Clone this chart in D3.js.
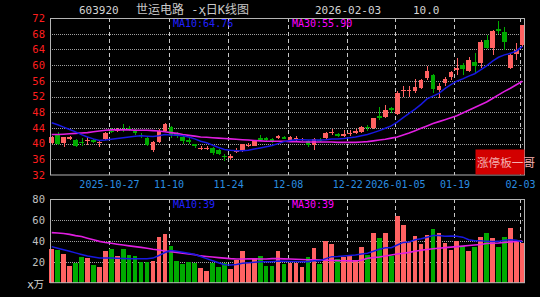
<!DOCTYPE html>
<html><head><meta charset="utf-8">
<script src="https://cdn.jsdelivr.net/npm/d3@7"></script>
<style>html,body{margin:0;padding:0;background:#000;overflow:hidden}</style>
</head><body><svg id="c" width="540" height="297"></svg>
<script>
const dates = [
"2025-10-13","2025-10-14","2025-10-15","2025-10-16","2025-10-17","2025-10-20","2025-10-21","2025-10-22","2025-10-23","2025-10-24",
"2025-10-27","2025-10-28","2025-10-29","2025-10-30","2025-10-31","2025-11-03","2025-11-04","2025-11-05","2025-11-06","2025-11-07",
"2025-11-10","2025-11-11","2025-11-12","2025-11-13","2025-11-14","2025-11-17","2025-11-18","2025-11-19","2025-11-20","2025-11-21",
"2025-11-24","2025-11-25","2025-11-26","2025-11-27","2025-11-28","2025-12-01","2025-12-02","2025-12-03","2025-12-04","2025-12-05",
"2025-12-08","2025-12-09","2025-12-10","2025-12-11","2025-12-12","2025-12-15","2025-12-16","2025-12-17","2025-12-18","2025-12-19",
"2025-12-22","2025-12-23","2025-12-24","2025-12-25","2025-12-26","2025-12-29","2025-12-30","2025-12-31","2026-01-05","2026-01-06",
"2026-01-07","2026-01-08","2026-01-09","2026-01-12","2026-01-13","2026-01-14","2026-01-15","2026-01-16","2026-01-19","2026-01-20",
"2026-01-21","2026-01-22","2026-01-23","2026-01-26","2026-01-27","2026-01-28","2026-01-29","2026-01-30","2026-02-02","2026-02-03"];

const open = [40.2,42.2,40.1,41.2,40.8,40.5,40.7,40.8,40.3,41.1,
43.3,43.1,43.8,43.9,43.4,42.3,41.3,38.4,40.5,43.3,
44.2,42.5,41.8,40.9,39.9,38.6,38.7,38.8,38.3,36.8,
36.4,37.8,38.3,39.5,39.5,41.3,41.5,41.2,41.3,41.6,
41.0,41.2,41.0,40.6,39.6,40.9,41.3,42.6,42.4,42.0,
42.5,42.6,42.9,44.3,43.9,47.0,46.9,49.0,47.5,53.3,
53.3,53.3,54.1,56.6,57.5,53.7,55.4,57.0,58.7,60.1,
58.4,60.9,60.5,66.4,64.3,69.2,68.5,59.2,62.8,65.0];
const high = [42.0,43.0,41.8,41.9,41.2,41.3,41.7,41.2,40.8,43.0,
44.0,44.1,44.9,44.4,43.8,42.8,41.6,40.6,43.6,45.3,
44.5,43.0,42.2,41.3,40.0,39.3,39.5,39.2,38.5,37.3,
37.3,38.8,40.0,40.2,41.0,42.3,41.7,41.4,42.1,41.9,
42.0,42.0,41.5,40.8,41.4,41.3,43.0,43.6,42.6,43.5,
43.5,43.7,44.4,44.7,46.6,49.4,49.9,49.4,53.4,54.7,
54.6,56.5,56.4,59.7,57.8,55.4,57.0,58.5,61.7,60.5,
62.0,63.0,66.4,67.7,68.9,71.2,69.8,62.8,65.6,70.2];
const low = [40.0,39.6,39.2,40.9,39.2,39.5,39.6,40.2,39.2,40.9,
42.8,42.9,42.9,43.2,42.2,41.3,39.4,37.9,40.2,43.0,
41.5,41.5,40.0,40.0,39.0,38.3,38.4,37.1,37.1,35.6,
35.8,37.6,37.9,39.1,39.3,40.8,40.7,40.1,41.1,41.2,
40.8,40.5,40.6,39.1,38.4,40.3,41.1,42.3,41.7,41.8,
41.9,42.4,42.7,43.2,43.6,46.0,46.5,47.7,47.2,52.0,
52.0,53.0,53.8,56.3,52.8,51.5,54.8,56.3,57.4,57.6,
58.2,58.0,59.3,64.0,62.6,68.0,63.8,59.0,61.2,64.5];
const close = [41.7,40.0,41.6,41.6,39.5,40.2,41.0,40.5,40.5,42.8,
43.1,43.6,43.6,43.5,42.8,42.0,39.6,40.4,43.3,44.9,
42.3,41.9,40.6,40.5,39.3,38.9,39.0,37.6,37.4,36.6,
36.8,38.4,39.8,39.7,40.8,41.1,40.9,40.5,41.9,41.4,
41.6,41.5,41.2,39.6,41.2,40.6,42.6,42.9,41.9,42.4,
42.8,43.2,44.3,43.9,46.4,46.6,48.6,48.6,52.9,53.7,
53.6,54.3,56.2,58.5,53.8,54.6,56.5,58.2,59.3,59.0,
61.3,59.8,66.0,64.4,68.6,68.8,66.0,62.6,63.8,70.2];
const volume = [32.3,31.3,27.2,16.3,18.6,24.9,23.4,17.0,15.3,30.4,
32.3,25.6,32.0,26.5,25.6,20.1,20.1,20.8,44.1,46.3,
35.2,20.8,17.9,20.1,18.6,13.8,11.2,18.6,15.3,18.6,
13.1,21.7,30.7,20.1,24.0,25.9,16.0,16.0,30.4,17.9,
19.2,19.0,15.0,24.3,33.0,17.9,40.3,36.8,22.7,24.9,
25.6,21.7,34.5,26.5,47.9,42.5,47.9,25.6,63.9,55.3,
39.3,45.0,36.8,45.7,51.1,47.3,37.7,31.3,40.3,35.2,
30.4,34.5,44.1,47.3,42.5,34.5,43.5,52.1,39.3,37.7];
const ma10 = [45.3,44.8,44.2,43.6,43.0,42.3,41.7,41.2,40.8,40.9,
41.1,41.3,41.5,41.7,41.9,42.0,41.9,41.8,42.0,42.3,
42.2,42.1,42.0,41.7,41.2,40.6,40.2,39.6,39.0,38.5,
38.3,38.2,38.2,38.3,38.6,38.9,39.2,39.5,40.0,40.5,
40.8,41.0,41.0,40.9,40.9,40.9,41.0,41.2,41.2,41.3,
41.5,41.7,42.0,42.3,42.8,43.3,43.9,44.5,45.5,46.6,
47.7,48.8,50.0,51.4,52.1,52.8,54.0,55.0,55.9,56.5,
57.2,57.8,58.8,59.8,61.0,62.0,62.6,63.0,63.6,64.76];
const ma30 = [42.3,42.3,42.4,42.5,42.6,42.7,42.8,43.0,43.2,43.4,
43.5,43.5,43.5,43.5,43.4,43.4,43.4,43.3,43.2,43.0,
42.8,42.6,42.3,42.1,41.9,41.7,41.6,41.5,41.4,41.3,
41.2,41.1,41.0,40.9,40.8,40.7,40.6,40.6,40.6,40.6,
40.5,40.5,40.4,40.4,40.4,40.4,40.4,40.4,40.3,40.3,
40.3,40.3,40.4,40.5,40.7,40.9,41.1,41.4,41.7,42.2,
42.7,43.3,43.9,44.5,45.1,45.6,46.1,46.6,47.1,47.8,
48.5,49.2,49.9,50.6,51.5,52.4,53.3,54.1,55.0,55.9];
const volMa10 = [34.5,33.0,31.5,30.0,28.5,27.0,25.5,24.5,23.5,23.5,
23.5,23.3,23.2,23.0,23.0,23.0,23.0,23.5,26.0,28.8,
30.7,30.0,29.2,28.2,27.0,25.0,23.0,21.0,19.0,17.2,
17.0,17.5,18.5,19.0,19.5,20.0,20.0,20.1,20.8,20.5,
20.3,20.2,20.1,20.1,21.0,21.0,23.0,24.9,25.0,25.5,
26.0,26.5,27.5,28.2,30.0,32.0,33.5,33.5,36.0,38.5,
39.0,41.0,42.0,43.5,45.0,45.0,44.5,44.7,44.5,43.5,
41.0,40.0,40.0,39.5,39.3,39.5,40.5,41.0,40.5,39.0];
const volMa30 = [47.9,47.5,47.0,46.2,45.0,44.1,42.5,41.0,39.5,38.5,
37.7,36.8,36.0,35.2,34.5,33.8,33.0,32.0,31.2,30.3,
29.7,29.0,28.2,27.5,26.8,25.6,25.0,24.5,24.0,23.5,
23.0,22.7,22.7,22.8,22.8,22.7,22.7,23.0,23.0,22.8,
22.6,22.4,22.2,22.0,21.8,21.7,21.5,21.3,21.1,21.0,
20.9,20.8,21.5,23.4,24.0,24.5,25.5,26.5,27.5,28.2,
29.0,30.0,31.0,31.8,32.5,33.0,33.5,34.0,34.5,35.0,
35.5,36.0,36.5,37.5,37.7,38.0,38.5,39.0,39.5,39.9];
const priceTicks = [72,68,64,60,56,52,48,44,40,36,32];
const volTicks = [80,60,40,20];
const dateTicks = ["2025-10-27","2025-11-10","2025-11-24","2025-12-08","2025-12-22","2026-01-05","2026-01-19","2026-02-03"];
const dateTickLabels = ["2025-10-27","11-10","11-24","12-08","12-22","2026-01-05","01-19","02-03"];

const RED = "#ff6262", GREEN = "#00aa00", BLUE = "#1818e0", MAG = "#e01ee0";
const MONO = "'DejaVu Sans Mono', monospace";
const svg = d3.select("#c");
svg.append("rect").attr("width",540).attr("height",297).attr("fill","#000");

const L = 50, R = 524, pTop = 18, pBot = 175, vTop = 199, vBot = 282.7;
const x = d3.scaleBand().domain(dates).range([49.4, 524.65]).paddingInner(0.22).paddingOuter(0);
const bw = x.bandwidth();
const y = d3.scaleLinear().domain([32,72]).range([pBot,pTop]);
const yv = d3.scaleLinear().domain([0,80]).range([vBot,vTop]);
const snap = v => Math.round(v) + 0.5;

// grids
const grid = svg.append("g");
priceTicks.filter(t => t > 32 && t < 72).forEach(t => {
  grid.append("line").attr("x1",L).attr("x2",R).attr("y1",snap(y(t))).attr("y2",snap(y(t)))
    .attr("stroke","#a0a0a0").attr("stroke-dasharray","1,1");
});
volTicks.filter(t => t < 80).forEach(t => {
  grid.append("line").attr("x1",L).attr("x2",R).attr("y1",snap(yv(t))).attr("y2",snap(yv(t)))
    .attr("stroke","#a0a0a0").attr("stroke-dasharray","1,1");
});
dateTicks.forEach(d => {
  const xx = snap(x(d));
  grid.append("line").attr("x1",xx).attr("x2",xx).attr("y1",pTop).attr("y2",pBot)
    .attr("stroke","#c8c8c8").attr("stroke-dasharray","4,3");
  grid.append("line").attr("x1",xx).attr("x2",xx).attr("y1",vTop).attr("y2",vBot)
    .attr("stroke","#c8c8c8").attr("stroke-dasharray","4,3");
});

// candles
const cg = svg.append("g").attr("shape-rendering","crispEdges");
dates.forEach((d,i) => {
  const up = close[i] >= open[i];
  const col = up ? RED : GREEN;
  const cx = Math.round(x(d) + bw/2) + 0.5;
  cg.append("line").attr("x1",cx).attr("x2",cx).attr("y1",y(high[i])).attr("y2",y(low[i])).attr("stroke",col);
  const y0 = y(Math.max(open[i],close[i])), y1 = y(Math.min(open[i],close[i]));
  cg.append("rect").attr("x",x(d)).attr("width",bw).attr("y",y0).attr("height",Math.max(1.2,y1-y0)).attr("fill",col);
  cg.append("rect").attr("x",x(d)).attr("width",bw).attr("y",yv(volume[i])).attr("height",vBot-yv(volume[i])).attr("fill",col);
});

// MA lines
const lineP = d3.line().x((v,i)=>x(dates[i])+bw/2).y(v=>y(v));
const lineV = d3.line().x((v,i)=>x(dates[i])+bw/2).y(v=>yv(v));
svg.append("path").attr("d",lineP(ma30)).attr("fill","none").attr("stroke",MAG).attr("stroke-width",1.6);
svg.append("path").attr("d",lineP(ma10)).attr("fill","none").attr("stroke",BLUE).attr("stroke-width",1.5);
svg.append("path").attr("d",lineV(volMa30)).attr("fill","none").attr("stroke",MAG).attr("stroke-width",1.6);
svg.append("path").attr("d",lineV(volMa10)).attr("fill","none").attr("stroke",BLUE).attr("stroke-width",1.5);

// borders
svg.append("rect").attr("x",L+0.5).attr("y",pTop+0.5).attr("width",R-L).attr("height",pBot-pTop-0.5)
  .attr("fill","none").attr("stroke","#b4b4b4");
svg.append("rect").attr("x",L+0.5).attr("y",vTop+0.5).attr("width",R-L).attr("height",vBot-vTop-0.5)
  .attr("fill","none").attr("stroke","#b4b4b4");

// axes
const ax1 = svg.append("g").attr("transform",`translate(${L},0)`)
  .call(d3.axisLeft(y).tickValues(priceTicks).tickSize(0).tickPadding(5).tickFormat(d3.format("d")));
ax1.select(".domain").remove();
ax1.selectAll("text").attr("fill","#ff1e1e").style("font-family",MONO).style("font-size","10.5px");
const ax2 = svg.append("g").attr("transform",`translate(${L},0)`)
  .call(d3.axisLeft(yv).tickValues(volTicks).tickSize(0).tickPadding(5).tickFormat(d3.format("d")));
ax2.select(".domain").remove();
ax2.selectAll("text").attr("fill","#c0c0c0").style("font-family",MONO).style("font-size","10.5px");
const ax3 = svg.append("g").attr("transform",`translate(0,${pBot})`)
  .call(d3.axisBottom(x).tickValues(dateTicks).tickSize(0).tickPadding(6).tickFormat((d,i)=>dateTickLabels[i]));
ax3.select(".domain").remove();
ax3.selectAll("text").attr("fill","#2a8ee0").attr("dx",-bw/2+0.5).style("font-family",MONO).style("font-size","10px");

// texts
const T = (t,xx,yy,col,size,fam) => svg.append("text").attr("x",xx).attr("y",yy).attr("fill",col)
  .style("font-family",fam||MONO).style("font-size",size+"px").text(t);
T("603920",79,13.5,"#d4d4d4",11);
T("世运电路 -ҳ日K线图",136,14,"#c8c8c8",12,"'DejaVu Sans Mono','Noto Sans CJK SC',sans-serif");
T("2026-02-03",315,13.5,"#d4d4d4",11);
T("10.0",413,13.5,"#d4d4d4",11);
T("MA10:64.76",173,27,"#2020ff",10);
T("MA30:55.90",292,27,"#ff00ff",10);
T("MA10:39",173,208,"#2020ff",10);
T("MA30:39",292,208,"#ff00ff",10);
svg.append("text").attr("x",44).attr("y",288).attr("text-anchor","end").attr("fill","#d0d0d0")
  .style("font-family","'DejaVu Sans','Noto Sans CJK SC',sans-serif").style("font-size","10.5px").text("ҳ万");

// watermark
svg.append("rect").attr("x",475.5).attr("y",149.5).attr("width",49).attr("height",25).attr("fill","#d20000");
T("涨停板一哥",477,167,"#f4b0b0",11.6,"'Noto Sans CJK SC',sans-serif");
</script></body></html>
